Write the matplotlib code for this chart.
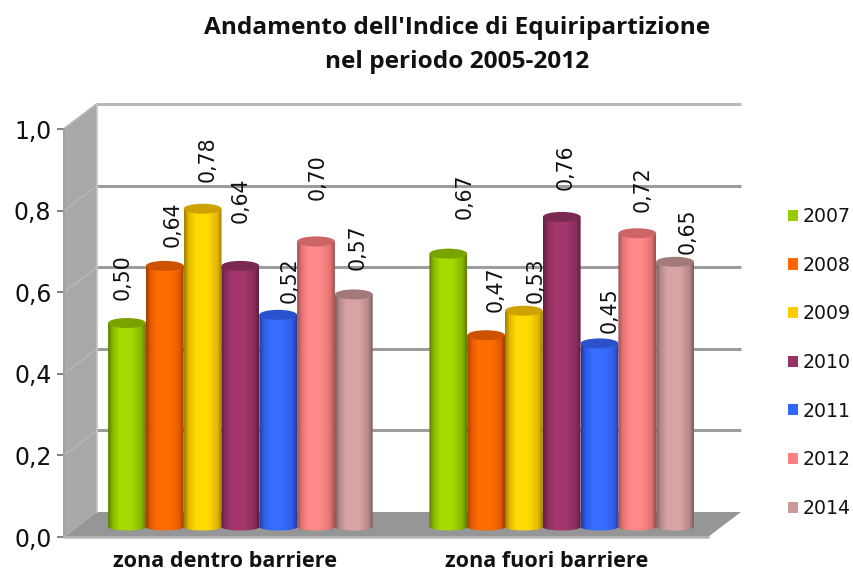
import numpy as np
import matplotlib
matplotlib.use("Agg")
import matplotlib.pyplot as plt
from matplotlib.colors import LinearSegmentedColormap, to_rgb
from matplotlib.patches import Ellipse, Patch, PathPatch, Polygon
from matplotlib.path import Path

# ---- data ----
categories = ["zona dentro barriere", "zona fuori barriere"]
years = ["2007", "2008", "2009", "2010", "2011", "2012", "2014"]
dentro = [0.50, 0.64, 0.78, 0.64, 0.52, 0.70, 0.57]
fuori = [0.67, 0.47, 0.53, 0.76, 0.45, 0.72, 0.65]
y_ticks = [0.0, 0.2, 0.4, 0.6, 0.8, 1.0]
y_tick_labels = ["0,0", "0,2", "0,4", "0,6", "0,8", "1,0"]
title = "Andamento dell'Indice di Equiripartizione\nnel periodo 2005-2012"

# ---- style ----
colors = ["#99CC00", "#FF6600", "#FFCC00", "#993366", "#3366FF", "#FF8080", "#CC9999"]
label_dx = [[-4, 8, 5, 0, 11, 2, 4], [16, 10, 12, 4, 10, 5, 13]]
label_dy = [[46, 42, 50, 66, 35, 64, 47], [57, 46, 31, 50, 33, 44, 31]]

W, H = 854, 572
BAR_PX = 37.8
V_PX = 408.0
AX_L, AX_R, AX_T, AX_B = 64, 708, 129, 537
SLOT0_PX = 127
GROUP_STEP = 8.5
BACK_DX = 33 / BAR_PX
BACK_DY = 25 / V_PX
BAR_DY = 10 / V_PX
ELL_H = 10 / V_PX
BASE_ELL_H = 3.5 / V_PX

fig = plt.figure(figsize=(W / 100, H / 100), dpi=100, facecolor="white")
ax = fig.add_axes([AX_L / W, 1 - AX_B / H, (AX_R - AX_L) / W, (AX_B - AX_T) / H])
ax.patch.set_visible(False)
x0 = (AX_L - SLOT0_PX) / BAR_PX
x1 = (AX_R - SLOT0_PX) / BAR_PX

# walls
ax.add_patch(Polygon([(x0, 0), (x0, 1), (x0 + BACK_DX, 1 + BACK_DY), (x0 + BACK_DX, BACK_DY)],
                     closed=True, fc="#a8a8a8", ec="none", clip_on=False, zorder=1))
ax.add_patch(Polygon([(x0, 0), (x1, 0), (x1 + BACK_DX, BACK_DY), (x0 + BACK_DX, BACK_DY)],
                     closed=True, fc="#969696", ec="none", clip_on=False, zorder=1))
for t in y_ticks:
    if t > 0:
        ax.plot([x0 + BACK_DX, x1 + BACK_DX], [t + BACK_DY] * 2, color="#9c9c9c" if t < 1 else "#b8b8b8",
                lw=2.2, clip_on=False, zorder=2, solid_capstyle="butt")
        ax.plot([x0, x0 + BACK_DX], [t, t + BACK_DY], color="#b4b4b4", lw=1.5, clip_on=False, zorder=2)
ax.plot([x0 + BACK_DX] * 2, [BACK_DY, 1 + BACK_DY], color="#c4c4c4", lw=1.2, clip_on=False, zorder=2)

# cylinders
def shade_cmap(c):
    r = np.array(to_rgb(c))
    dark = r * 0.62
    mid = r * 0.9
    hi = np.clip(r * 1.07, 0, 1)
    return LinearSegmentedColormap.from_list(
        "s", [(0, dark), (0.12, mid), (0.3, hi), (0.62, hi), (0.88, mid), (1, dark)])

grad = np.linspace(0, 1, 64).reshape(1, -1)
for g, vals in enumerate([dentro, fuori]):
    for i, v in enumerate(vals):
        s = i + GROUP_STEP * g
        z = 3 + g + i * 0.1
        base, top = BAR_DY, BAR_DY + v
        left, right = s - 0.5, s + 0.5
        th = np.linspace(np.pi, 2 * np.pi, 30)
        verts = [(left, top)] + list(zip(s + 0.5 * np.cos(th), base + BASE_ELL_H * np.sin(th))) + [(right, top), (left, top)]
        clip = PathPatch(Path(verts), transform=ax.transData, fc="none", ec="none")
        im = ax.imshow(grad, extent=(left, right, base - 2 * BASE_ELL_H, top), aspect="auto",
                       cmap=shade_cmap(colors[i]), zorder=z, clip_on=True)
        ax.add_patch(clip)
        im.set_clip_path(clip)
        ax.add_patch(Ellipse((s, top), 1.0, ELL_H, fc=np.array(to_rgb(colors[i])) * 0.8, ec="none",
                             zorder=z + 0.01, clip_on=False))
        ax.annotate(f"{v:.2f}".replace(".", ","), xy=(s, top), xytext=(label_dx[g][i], label_dy[g][i]),
                    textcoords="offset pixels", rotation=90, ha="center", va="center",
                    fontsize=14.8, color="#111111", zorder=10, annotation_clip=False)

ax.set_xlim(x0, x1)
ax.set_ylim(0, 1)

# axes
for side in ("top", "right"):
    ax.spines[side].set_visible(False)
ax.spines["left"].set_color("#a0a0a0")
ax.spines["left"].set_linewidth(1.4)
ax.spines["bottom"].set_color("#b8b8b8")
ax.spines["bottom"].set_linewidth(1.8)
ax.set_yticks(y_ticks)
ax.set_yticklabels(y_tick_labels, fontsize=17, color="#111111")
ax.tick_params(axis="y", length=5, width=1.4, color="#808080", pad=4)
ax.set_xticks([3 + GROUP_STEP * g - 15 / BAR_PX for g in range(2)])
ax.set_xticklabels(categories, fontsize=15.6, fontweight="bold", family="Open Sans", color="#111111")
ax.tick_params(axis="x", length=0, pad=10)

# legend
handles = [Patch(fc=c, ec="none") for c in colors]
fig.legend(handles, years, loc="upper left", bbox_to_anchor=(788 / W, 1 - 207 / H), frameon=False,
           fontsize=13.6, labelspacing=1.57, handlelength=0.53, handleheight=0.53,
           handletextpad=0.24, borderpad=0, borderaxespad=0, labelcolor="#111111")

fig.text(457 / W, 1 - 45 / H, title, ha="center", va="center", fontsize=17.6, fontweight="bold",
         family="Open Sans", color="#111111", linespacing=1.6)

fig.savefig("out.png", dpi=100, facecolor="white")
